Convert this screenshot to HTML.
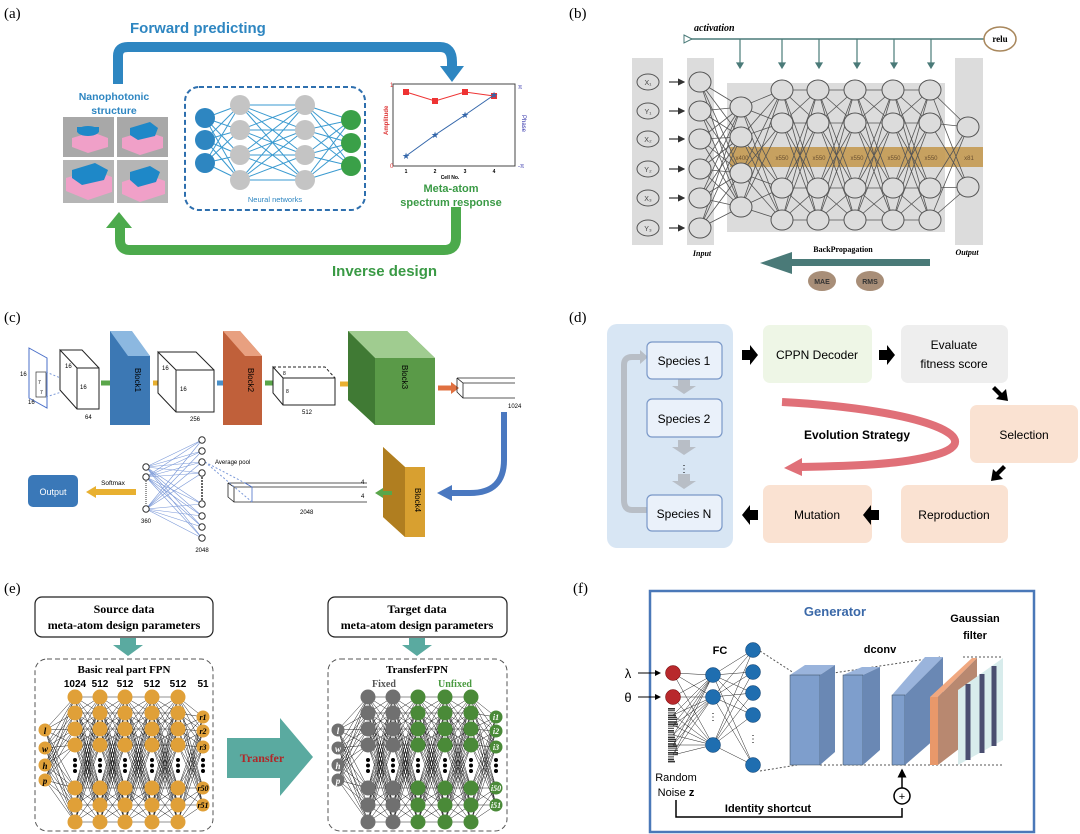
<!DOCTYPE html>
<html><head><meta charset="utf-8"><style>
html,body{margin:0;padding:0;background:#fff}
svg{display:block}
text{font-family:"Liberation Sans",sans-serif}
.s{font-family:"Liberation Serif",serif}
</style></head><body>
<svg id="S" width="1080" height="834" viewBox="0 0 1080 834" xmlns="http://www.w3.org/2000/svg">
<defs>
<marker id="ah" markerWidth="6" markerHeight="6" refX="5" refY="3" orient="auto"><path d="M0,0L6,3L0,6z" fill="#333"/></marker>
<marker id="ahb" markerWidth="6" markerHeight="6" refX="5" refY="3" orient="auto"><path d="M0,0L6,3L0,6z" fill="#000"/></marker>
</defs>
<g id="lines"></g>
<!-- ========== (a) ========== -->
<text x="4" y="18" class="s" font-size="15">(a)</text>
<text x="130" y="33" font-size="15" font-weight="bold" fill="#2e86c1">Forward predicting</text>
<path d="M118,84 V56 Q118,47 128,47 H440 Q452,47 452,62 V66" fill="none" stroke="#2e86c1" stroke-width="10"/>
<path d="M440,66 H464 L452,82 Z" fill="#2e86c1"/>
<text x="114" y="100" font-size="10.5" font-weight="bold" fill="#2e86c1" text-anchor="middle">Nanophotonic</text>
<text x="114" y="114" font-size="10.5" font-weight="bold" fill="#2e86c1" text-anchor="middle">structure</text>
<g>
<rect x="63" y="117" width="51" height="40" fill="#a8a8a8"/><rect x="117" y="117" width="51" height="40" fill="#a8a8a8"/>
<rect x="63" y="160" width="51" height="43" fill="#b5b5b5"/><rect x="117" y="160" width="51" height="43" fill="#b5b5b5"/>
<path d="M72,138 L92,132 L108,138 L108,147 L88,153 L72,147Z" fill="#f0a0c8"/>
<ellipse cx="88" cy="131" rx="11" ry="5" fill="#1e88c8"/><rect x="77" y="127" width="22" height="5" fill="#1e88c8"/>
<path d="M122,138 L145,131 L163,137 L163,148 L140,155 L122,148Z" fill="#f0a0c8"/>
<path d="M130,128 L150,122 L158,128 L155,136 L138,140 L130,135Z" fill="#1e88c8"/>
<path d="M66,178 L92,170 L112,177 L112,192 L88,200 L66,191Z" fill="#f0a0c8"/>
<path d="M72,170 L95,163 L108,170 L104,180 L82,185 L72,178Z" fill="#1e88c8"/>
<path d="M122,182 L146,174 L165,181 L165,194 L140,202 L122,194Z" fill="#f0a0c8"/>
<path d="M130,172 L150,166 L160,172 L156,182 L138,187 L130,180Z" fill="#1e88c8"/>
</g>
<rect x="185" y="87" width="180" height="123" rx="14" fill="none" stroke="#2e6fae" stroke-width="2" stroke-dasharray="5,3"/>
<g id="nna"></g>
<text x="275" y="202" font-size="7.5" fill="#2e86c1" text-anchor="middle">Neural networks</text>
<!-- chart -->
<rect x="393" y="84" width="122" height="82" fill="none" stroke="#444" stroke-width="1"/>
<text x="390" y="87" font-size="6" fill="#d33">1</text><text x="390" y="168" font-size="6" fill="#d33">0</text>
<text x="518" y="89" font-size="6" fill="#33a">π</text><text x="518" y="168" font-size="6" fill="#33a">-π</text>
<text transform="translate(388,135) rotate(-90)" font-size="6" font-weight="bold" fill="#d33">Amplitude</text>
<text transform="translate(522,115) rotate(90)" font-size="6" fill="#33a">Phase</text>
<polyline points="406,92 435,101 465,92 494,96" fill="none" stroke="#e33" stroke-width="1"/>
<g fill="#e33"><rect x="403" y="89" width="6" height="6"/><rect x="432" y="98" width="6" height="6"/><rect x="462" y="89" width="6" height="6"/><rect x="491" y="93" width="6" height="6"/></g>
<polyline points="406,156 435,135 465,115 494,95" fill="none" stroke="#36a" stroke-width="1"/>
<g fill="#36a" font-size="9" text-anchor="middle"><text x="406" y="159">★</text><text x="435" y="138">★</text><text x="465" y="118">★</text><text x="494" y="98">★</text></g>
<g font-size="5" font-weight="bold" text-anchor="middle"><text x="406" y="173">1</text><text x="435" y="173">2</text><text x="465" y="173">3</text><text x="494" y="173">4</text><text x="450" y="179">Cell No.</text></g>
<text x="451" y="192" font-size="11" font-weight="bold" fill="#3a9a45" text-anchor="middle">Meta-atom</text>
<text x="451" y="206" font-size="11" font-weight="bold" fill="#3a9a45" text-anchor="middle">spectrum response</text>
<path d="M456,207 V238 Q456,250 444,250 H130 Q120,250 120,240 V228" fill="none" stroke="#4caa4c" stroke-width="10"/>
<path d="M106,228 H132 L119,212 Z" fill="#4caa4c"/>
<text x="332" y="276" font-size="15" font-weight="bold" fill="#3a9a45">Inverse design</text>

<!-- ========== (b) ========== -->
<text x="569" y="18" class="s" font-size="15">(b)</text>
<text x="694" y="31" class="s" font-size="10" font-style="italic" font-weight="bold">activation</text>
<line x1="688" y1="39" x2="985" y2="39" stroke="#4a7a78" stroke-width="1.5"/>
<path d="M684,35 L692,39 L684,43Z" fill="#fff" stroke="#4a7a78"/>
<ellipse cx="1000" cy="39" rx="16" ry="12" fill="#fff" stroke="#a8875c" stroke-width="1.5"/>
<text x="1000" y="42" class="s" font-size="9" font-weight="bold" text-anchor="middle">relu</text>
<g stroke="#4a7a78" stroke-width="1.2" fill="#4a7a78" id="barr"></g>
<rect x="632" y="58" width="31" height="187" fill="#dcdcdc"/>
<rect x="687" y="58" width="27" height="187" fill="#dcdcdc"/>
<rect x="727" y="83" width="218" height="149" fill="#dcdcdc"/>
<rect x="955" y="58" width="28" height="187" fill="#dcdcdc"/>
<rect x="730" y="147" width="253" height="20" fill="#c49a52" opacity="0.9"/>
<g id="nnb"></g>
<g font-size="6" fill="#6a5030" text-anchor="middle"><text x="742" y="160">x400</text><text x="782" y="160">x550</text><text x="819" y="160">x550</text><text x="857" y="160">x550</text><text x="894" y="160">x550</text><text x="931" y="160">x550</text><text x="969" y="160">x81</text></g>
<text x="702" y="256" class="s" font-size="8" font-style="italic" font-weight="bold" text-anchor="middle">Input</text>
<text x="967" y="255" class="s" font-size="8" font-style="italic" font-weight="bold" text-anchor="middle">Output</text>
<text x="843" y="252" class="s" font-size="8" font-weight="bold" text-anchor="middle">BackPropagation</text>
<rect x="790" y="259" width="140" height="7" fill="#4a7a78"/><path d="M792,252 L760,263 L792,274Z" fill="#4a7a78"/>
<ellipse cx="822" cy="281" rx="14" ry="10" fill="#a88e78"/><ellipse cx="870" cy="281" rx="14" ry="10" fill="#a88e78"/>
<text x="822" y="284" font-size="7" font-weight="bold" fill="#333" text-anchor="middle">MAE</text><text x="870" y="284" font-size="7" font-weight="bold" fill="#333" text-anchor="middle">RMS</text>

<!-- ========== (c) ========== -->
<text x="4" y="322" class="s" font-size="15">(c)</text>
<path d="M29,348 L47,358 L47,408 L29,398Z" fill="#fff" stroke="#4a6fc8"/>
<rect x="36" y="372" width="10" height="25" fill="none" stroke="#333" stroke-width="0.7"/>
<path d="M46,372 L80,386 M46,397 L80,386" stroke="#7a98d8" stroke-dasharray="2,2"/>
<text x="20" y="376" font-size="6">16</text><text x="28" y="404" font-size="6">16</text><text x="38" y="384" font-size="5">7</text><text x="40" y="394" font-size="5">7</text>
<path d="M60,350 L77,368 L99,368 L99,409 L77,409 L60,390Z M77,368 L77,409" fill="#fff" stroke="#222"/>
<path d="M60,350 L82,350 L99,368" fill="none" stroke="#222"/>
<text x="65" y="368" font-size="6">16</text><text x="80" y="389" font-size="6">16</text><text x="85" y="419" font-size="6">64</text>
<path d="M101,383 H115" stroke="#5aa64a" stroke-width="5"/><path d="M114,377 L122,383 L114,389Z" fill="#5aa64a"/>
<path d="M110,331 L128,331 L150,356 L150,425 L110,425Z" fill="#3c78b4"/><path d="M110,331 L132,331 L150,356 L128,356Z" fill="#8cb8e0"/>
<text transform="translate(135,380) rotate(90)" font-size="8" text-anchor="middle">Block1</text>
<path d="M153,383 H165" stroke="#e8b030" stroke-width="5"/><path d="M164,377 L172,383 L164,389Z" fill="#e8b030"/>
<path d="M158,352 L176,370 L214,370 L214,412 L176,412 L158,393Z M176,370 L176,412" fill="#fff" stroke="#222"/>
<path d="M158,352 L196,352 L214,370" fill="none" stroke="#222"/>
<text x="162" y="370" font-size="6">16</text><text x="180" y="391" font-size="6">16</text><text x="190" y="421" font-size="6">256</text>
<path d="M217,383 H228" stroke="#4a90c8" stroke-width="5"/><path d="M227,377 L235,383 L227,389Z" fill="#4a90c8"/>
<path d="M223,331 L240,331 L262,356 L262,425 L223,425Z" fill="#c0603a"/><path d="M223,331 L240,331 L262,356 L245,356Z" fill="#e8a080"/>
<text transform="translate(248,380) rotate(90)" font-size="8" text-anchor="middle">Block2</text>
<path d="M265,383 H275" stroke="#5aa64a" stroke-width="5"/><path d="M274,377 L282,383 L274,389Z" fill="#5aa64a"/>
<path d="M273,367 L283,378 L335,378 L335,405 L283,405 L273,393Z M283,378 L283,405" fill="#fff" stroke="#222"/>
<path d="M273,367 L325,367 L335,378" fill="none" stroke="#222" stroke-dasharray="3,2"/>
<text x="283" y="375" font-size="5">8</text><text x="286" y="393" font-size="5">8</text><text x="302" y="414" font-size="6">512</text>
<path d="M340,384 H353" stroke="#e8b030" stroke-width="5"/><path d="M352,378 L360,384 L352,390Z" fill="#e8b030"/>
<path d="M348,331 L407,331 L435,358 L435,425 L375,425 L348,400Z" fill="#5a9a48"/><path d="M348,331 L407,331 L435,358 L375,358Z" fill="#a0cc90"/><path d="M348,331 L375,358 L375,425 L348,400Z" fill="#407a34"/>
<text transform="translate(402,377) rotate(90)" font-size="8" text-anchor="middle">Block3</text>
<path d="M438,388 H452" stroke="#e07040" stroke-width="5"/><path d="M451,382 L459,388 L451,394Z" fill="#e07040"/>
<path d="M457,378 L463,383 L515,383 M463,383 L463,398 L515,398 M457,378 L457,392 L463,398 M457,378 L515,378" fill="none" stroke="#222" stroke-width="0.8"/>
<text x="508" y="408" font-size="6">1024</text>
<path d="M504,412 V460 Q504,493 470,493 H450" fill="none" stroke="#4a78c0" stroke-width="6"/><path d="M452,485 L437,493 L452,501Z" fill="#4a78c0"/>
<path d="M383,447 L405,467 L425,467 L425,537 L405,537 L383,517Z" fill="#d8a030"/><path d="M383,447 L405,467 L405,537 L383,517Z" fill="#b07e20"/>
<text transform="translate(415,500) rotate(90)" font-size="8" text-anchor="middle">Block4</text>
<path d="M392,493 H382" stroke="#5aa64a" stroke-width="4"/><path d="M383,488 L375,493 L383,498Z" fill="#5aa64a"/>
<path d="M228,483 L234,487 L367,487 M234,487 L234,502 L367,502 M228,483 L228,497 L234,502 M228,483 L367,483" fill="none" stroke="#222" stroke-width="0.8"/>
<path d="M245,483 L252,487 L252,502" fill="none" stroke="#4a6fc8" stroke-width="0.8"/>
<text x="361" y="484" font-size="6">4</text><text x="361" y="498" font-size="6">4</text><text x="300" y="514" font-size="6">2048</text>
<text x="215" y="464" font-size="6">Average pool</text>
<g id="nnc"></g>
<text x="146" y="523" font-size="6" text-anchor="middle">360</text><text x="202" y="552" font-size="6" text-anchor="middle">2048</text>
<text x="113" y="485" font-size="6.5" text-anchor="middle">Softmax</text>
<path d="M136,492 H95" stroke="#e8b030" stroke-width="6"/><path d="M96,486 L86,492 L96,498Z" fill="#e8b030"/>
<rect x="28" y="475" width="50" height="32" rx="5" fill="#3a78b8"/>
<text x="53" y="495" font-size="9" fill="#fff" text-anchor="middle">Output</text>

<!-- ========== (d) ========== -->
<text x="569" y="322" class="s" font-size="15">(d)</text>
<rect x="607" y="324" width="126" height="224" rx="10" fill="#d8e6f4"/>
<path d="M648,510 H632 Q624,510 624,500 V365 Q624,357 632,357 H642" fill="none" stroke="#b8bec6" stroke-width="6"/><path d="M640,350 L648,357 L640,364Z" fill="#b8bec6"/>
<g fill="#b8bec6"><path d="M678,379 H690 V386 H696 L684,394 L672,386 H678Z"/><path d="M678,440 H690 V447 H696 L684,455 L672,447 H678Z"/><path d="M678,474 H690 V481 H696 L684,489 L672,481 H678Z"/></g>
<text x="684" y="472" font-size="10" text-anchor="middle">⋮</text>
<g fill="#eaf1fa" stroke="#7a98c8" stroke-width="1.2"><rect x="647" y="342" width="75" height="37" rx="5"/><rect x="647" y="399" width="75" height="38" rx="5"/><rect x="647" y="495" width="75" height="36" rx="5"/></g>
<g font-size="12" text-anchor="middle"><text x="684" y="365">Species 1</text><text x="684" y="423">Species 2</text><text x="684" y="518">Species N</text></g>
<rect x="763" y="325" width="109" height="58" rx="7" fill="#eef6e6"/>
<rect x="901" y="325" width="107" height="58" rx="7" fill="#eeeeee"/>
<rect x="970" y="405" width="108" height="58" rx="7" fill="#fae2d2"/>
<rect x="901" y="485" width="107" height="58" rx="7" fill="#fae2d2"/>
<rect x="763" y="485" width="109" height="58" rx="7" fill="#fae2d2"/>
<g font-size="12" text-anchor="middle"><text x="817" y="359">CPPN Decoder</text><text x="954" y="349">Evaluate</text><text x="954" y="368">fitness score</text><text x="1024" y="439">Selection</text><text x="954" y="519">Reproduction</text><text x="817" y="519">Mutation</text></g>
<g fill="#000"><path d="M742,350 H750 V345 L758,355 L750,365 V360 H742Z"/><path d="M879,350 H887 V345 L895,355 L887,365 V360 H879Z"/>
<path d="M879,510 H871 V505 L863,515 L871,525 V520 H879Z"/><path d="M758,510 H750 V505 L742,515 L750,525 V520 H758Z"/>
<path d="M995,386 L1002,393 L1006,389 L1008,401 L996,399 L999,396 L992,389Z"/><path d="M1006,468 L999,475 L1003,479 L991,481 L993,469 L996,472 L1003,465Z"/></g>
<path d="M782,402 C930,410 990,440 935,455 C900,465 850,466 800,467" fill="none" stroke="#e07078" stroke-width="8"/>
<path d="M802,458 L784,468 L802,476Z" fill="#e07078"/>
<text x="857" y="439" font-size="12" font-weight="bold" text-anchor="middle">Evolution Strategy</text>

<!-- ========== (e) ========== -->
<text x="4" y="593" class="s" font-size="15">(e)</text>
<rect x="35" y="597" width="178" height="40" rx="7" fill="#fff" stroke="#222" stroke-width="1.2"/>
<text x="124" y="613" class="s" font-size="12" font-weight="bold" text-anchor="middle">Source data</text>
<text x="124" y="629" class="s" font-size="12" font-weight="bold" text-anchor="middle">meta-atom design parameters</text>
<path d="M120,638 H136 V645 H143 L128,656 L113,645 H120Z" fill="#5aaaa0"/>
<rect x="35" y="659" width="178" height="172" rx="12" fill="none" stroke="#555" stroke-dasharray="5,3"/>
<text x="124" y="673" class="s" font-size="11" font-weight="bold" text-anchor="middle">Basic real part FPN</text>
<g class="s" font-size="10" font-weight="bold" text-anchor="middle"><text x="75" y="687">1024</text><text x="100" y="687">512</text><text x="125" y="687">512</text><text x="152" y="687">512</text><text x="178" y="687">512</text><text x="203" y="687">51</text></g>
<rect x="328" y="597" width="179" height="40" rx="7" fill="#fff" stroke="#222" stroke-width="1.2"/>
<text x="417" y="613" class="s" font-size="12" font-weight="bold" text-anchor="middle">Target data</text>
<text x="417" y="629" class="s" font-size="12" font-weight="bold" text-anchor="middle">meta-atom design parameters</text>
<path d="M409,638 H425 V645 H432 L417,656 L402,645 H409Z" fill="#5aaaa0"/>
<rect x="328" y="659" width="179" height="172" rx="12" fill="none" stroke="#555" stroke-dasharray="5,3"/>
<text x="417" y="673" class="s" font-size="11" font-weight="bold" text-anchor="middle">TransferFPN</text>
<text x="384" y="687" class="s" font-size="10" font-weight="bold" fill="#555" text-anchor="middle">Fixed</text>
<text x="455" y="687" class="s" font-size="10" font-weight="bold" fill="#4a9a40" text-anchor="middle">Unfixed</text>
<g id="nne"></g>
<path d="M227,738 H280 V718 L313,757 L280,796 V778 H227Z" fill="#5aaaa0"/>
<text x="262" y="762" class="s" font-size="12" font-weight="bold" fill="#b02828" text-anchor="middle">Transfer</text>

<!-- ========== (f) ========== -->
<text x="573" y="593" class="s" font-size="15">(f)</text>
<rect x="650" y="591" width="384" height="241" fill="none" stroke="#4a78b8" stroke-width="2.5"/>
<text x="835" y="616" font-size="13" font-weight="bold" fill="#3a68a8" text-anchor="middle">Generator</text>
<text x="720" y="654" font-size="11" font-weight="bold" text-anchor="middle">FC</text>
<text x="880" y="653" font-size="11" font-weight="bold" text-anchor="middle">dconv</text>
<text x="975" y="622" font-size="11" font-weight="bold" text-anchor="middle">Gaussian</text>
<text x="975" y="639" font-size="11" font-weight="bold" text-anchor="middle">filter</text>
<text x="628" y="678" font-size="13" text-anchor="middle">λ</text><text x="628" y="702" font-size="13" text-anchor="middle">θ</text>
<line x1="638" y1="673" x2="660" y2="673" stroke="#000" marker-end="url(#ahb)"/><line x1="638" y1="697" x2="660" y2="697" stroke="#000" marker-end="url(#ahb)"/>
<g id="nnf"></g>
<g stroke="#555" stroke-dasharray="2,2" fill="none"><path d="M760,651 L797,675 M760,771 L797,765 M820,675 L940,657 M820,765 L1003,765 M963,657 L1003,657"/></g>
<path d="M790,675 L805,665 L835,665 L820,675Z" fill="#9ab4dc"/><rect x="790" y="675" width="30" height="90" fill="#7e9ecc" stroke="#345"  stroke-width="0.5"/><path d="M820,675 L835,665 L835,752 L820,765Z" fill="#6a88b4"/>
<path d="M843,675 L862,667 L880,667 L863,675Z" fill="#9ab4dc"/><rect x="843" y="675" width="20" height="90" fill="#7e9ecc" stroke="#345" stroke-width="0.5"/><path d="M863,675 L880,667 L880,750 L863,765Z" fill="#6a88b4"/>
<path d="M892,695 L925,657 L943,657 L905,695Z" fill="#9ab4dc"/><rect x="892" y="695" width="13" height="70" fill="#7e9ecc" stroke="#345" stroke-width="0.5"/><path d="M905,695 L943,657 L943,732 L905,765Z" fill="#6a88b4"/>
<path d="M930,697 L972,658 L977,658 L938,697Z" fill="#f0a880"/><rect x="930" y="697" width="8" height="68" fill="#e8986a"/><path d="M938,697 L977,658 L977,735 L938,765Z" fill="#b88870"/>
<path d="M958,690 L1003,658 L1003,740 L958,765Z" fill="#d8ecec"/>
<g stroke="#4a4e70" stroke-width="5"><line x1="968" y1="684" x2="968" y2="760"/><line x1="982" y1="674" x2="982" y2="753"/><line x1="994" y1="666" x2="994" y2="746"/></g>
<g font-size="11" text-anchor="middle"><text x="676" y="781">Random</text><text x="676" y="796">Noise <tspan font-weight="bold">z</tspan></text></g>
<text x="768" y="812" font-size="11" font-weight="bold" text-anchor="middle">Identity shortcut</text>
<path d="M676,800 V817 H902 V808" fill="none" stroke="#000" stroke-width="1.5"/>
<circle cx="902" cy="796" r="8" fill="#fff" stroke="#000" stroke-width="1.5"/><text x="902" y="800" font-size="11" text-anchor="middle">+</text>
<line x1="902" y1="788" x2="902" y2="770" stroke="#000" stroke-width="1.5" marker-end="url(#ahb)"/>
<g id="bar"></g>
</svg>
<script>
var NS="http://www.w3.org/2000/svg";
function el(p,t,a){var e=document.createElementNS(NS,t);for(var k in a)e.setAttribute(k,a[k]);document.getElementById(p).appendChild(e);return e;}
function conn(p,A,B,c,w){A.forEach(function(a){B.forEach(function(b){el(p,"line",{x1:a[0],y1:a[1],x2:b[0],y2:b[1],stroke:c,"stroke-width":w});});});}
function col(x,ys){return ys.map(function(y){return [x,y];});}
// (a)
var a0=col(205,[118,140,163]),a1=col(240,[105,130,155,180]),a2=col(305,[105,130,155,180]),a3=col(351,[120,143,166]);
conn("nna",a0,a1,"#3a9ad0",1);conn("nna",a1,a2,"#3a9ad0",1);conn("nna",a2,a3,"#3a9ad0",1);
a0.forEach(function(p){el("nna","circle",{cx:p[0],cy:p[1],r:10,fill:"#2e86c1"});});
a1.concat(a2).forEach(function(p){el("nna","circle",{cx:p[0],cy:p[1],r:10,fill:"#c4c4c4"});});
a3.forEach(function(p){el("nna","circle",{cx:p[0],cy:p[1],r:10,fill:"#3aa048"});});
// (b)
[740,782,819,857,894,931].forEach(function(x){el("barr","line",{x1:x,y1:39,x2:x,y2:64});el("barr","path",{d:"M"+(x-3)+",63 L"+(x+3)+",63 L"+x+",68Z"});});
var iy=[82,111,139,169,198,228];
var b0=col(700,iy),b1=col(741,[107,137,173,207]),hy=[90,123,188,220];
var cols=[b0,b1];[782,818,855,893,930].forEach(function(x){cols.push(col(x,hy));});cols.push(col(968,[127,187]));
for(var i=0;i<cols.length-1;i++)conn("nnb",cols[i],cols[i+1],"#555",0.8);
iy.forEach(function(y,i){el("nnb","ellipse",{cx:648,cy:y,rx:11,ry:8,fill:"#ddd",stroke:"#555"});
 var t=el("nnb","text",{x:648,y:y+3,"font-size":7,"text-anchor":"middle",fill:"#444"});t.textContent=["X₁","Y₁","X₂","Y₂","X₃","Y₃"][i];
 el("nnb","line",{x1:669,y1:y,x2:684,y2:y,stroke:"#333","stroke-width":1.2,"marker-end":"url(#ah)"});});
cols.forEach(function(c){c.forEach(function(p){el("nnb","ellipse",{cx:p[0],cy:p[1],rx:11,ry:10,fill:"#dcdcdc",stroke:"#555","stroke-width":1});});});
// (c)
var c0=col(146,[467,477,509]),c1=col(202,[440,451,462,473,504,516,527,538]);
conn("nnc",c0,c1,"#7a98d8",0.6);
el("nnc","line",{x1:146,y1:481,x2:146,y2:505,stroke:"#333","stroke-dasharray":"1,1"});
el("nnc","line",{x1:202,y1:477,x2:202,y2:500,stroke:"#333","stroke-dasharray":"2,1","stroke-width":1.5});
el("nnc","path",{d:"M205,462 L245,483 M205,462 L252,502",stroke:"#7a98d8","stroke-dasharray":"2,2",fill:"none"});
c0.concat(c1).forEach(function(p){el("nnc","circle",{cx:p[0],cy:p[1],r:3.2,fill:"#fff",stroke:"#333"});});
// (e)
function fpn(dx,colors){
 var hy=[697,713,729,745,788,805,822];
 var cs=[col(45+dx,[730,748,765,780])];[75,100,125,152,178].forEach(function(x){cs.push(col(x+dx,hy));});cs.push(col(203+dx,[717,731,747,788,805]));
 for(var i=0;i<cs.length-1;i++)conn("nne",cs[i],cs[i+1],"#222",0.5);
 cs.forEach(function(c,i){c.forEach(function(p){el("nne","circle",{cx:p[0],cy:p[1],r:i==0||i==6?6.5:7.5,fill:colors[i]});});
  if(i>0){for(var k=0;k<3;k++)el("nne","circle",{cx:c[0][0],cy:760+k*5.5,r:2,fill:"#000"});}});
 return cs;}
var oc="#e0a038";fpn(0,[oc,oc,oc,oc,oc,oc,oc]);
var g="#707070",gr="#4a8a38";fpn(293,[g,g,g,gr,gr,gr,gr]);
var lab=["l","w","h","p"];[730,748,765,780].forEach(function(y,i){var t=el("nne","text",{x:45,y:y+4,"font-size":9,"font-style":"italic","font-weight":"bold","text-anchor":"middle","class":"s"});t.textContent=lab[i];
 var t2=el("nne","text",{x:338,y:y+4,"font-size":9,"font-style":"italic","font-weight":"bold","fill":"#fff","text-anchor":"middle","class":"s"});t2.textContent=lab[i];});
[717,731,747,788,805].forEach(function(y,i){var s=["1","2","3","50","51"][i];var t=el("nne","text",{x:203,y:y+3,"font-size":8,"font-style":"italic","font-weight":"bold","text-anchor":"middle","class":"s"});t.textContent="r"+s;
 var t2=el("nne","text",{x:496,y:y+3,"font-size":8,"font-style":"italic","font-weight":"bold","fill":"#fff","text-anchor":"middle","class":"s"});t2.textContent="i"+s;});
// (f)
var f0=col(673,[673,697]),fz=col(673,[715,725,735,745,755]),f1=col(713,[675,697,745]),f2=col(753,[650,672,693,715,765]);
conn("nnf",f0.concat(fz),f1,"#222",0.5);conn("nnf",f1,f2,"#222",0.5);
f0.forEach(function(p){el("nnf","circle",{cx:p[0],cy:p[1],r:7.5,fill:"#b8282c",stroke:"#600","stroke-width":0.5});});
f1.concat(f2).forEach(function(p){el("nnf","circle",{cx:p[0],cy:p[1],r:7.5,fill:"#1f6eb0",stroke:"#0a3a6a","stroke-width":0.5});});
for(var y=708;y<762;y+=2.2){el("nnf","rect",{x:668,y:y,width:6+((Math.round(y*7))%5),height:(Math.round(y*3)%2)?1:1.6,fill:"#333"});}
[[713,716],[753,738]].forEach(function(p){var t=el("nnf","text",{x:p[0],y:p[1]+4,"font-size":10,"text-anchor":"middle"});t.textContent="⋮";});
</script>
</body></html>
